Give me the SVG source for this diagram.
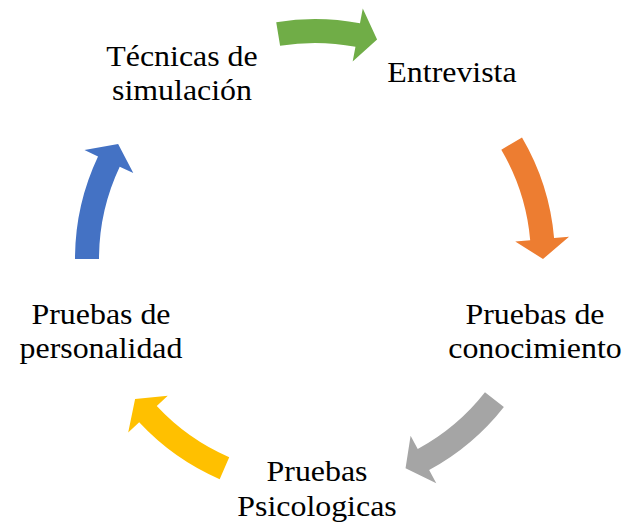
<svg xmlns="http://www.w3.org/2000/svg" width="624" height="524" viewBox="0 0 624 524">
  <style>
    .label { font-family: "Liberation Serif", "Times New Roman", serif; font-size: 29px; fill: #000000; text-anchor: middle; }
    .arrow { stroke: none; }
  </style>
  <rect width="624" height="524" fill="#ffffff"/>

  <!-- circular block arrows, centre (315,259), mid radius 228 -->
  <g id="connectors">
    <path class="arrow" fill="#70AD47" d="M276.22,22.14 A240,240 0 0 1 359.97,23.25 L362.78,8.52 L377.08,39.61 L352.66,61.56 L355.47,46.83 A216,216 0 0 0 280.09,45.83 Z"/>
    <path class="arrow" fill="#ED7D31" d="M522.00,137.55 A240,240 0 0 1 554.09,238.08 L569.03,236.77 L543,259 L515.23,241.48 L530.18,240.17 A216,216 0 0 0 501.30,149.70 Z"/>
    <path class="arrow" fill="#A5A5A5" d="M503.87,407.09 A240,240 0 0 1 429.15,470.12 L436.28,483.31 L405.55,468.25 L410.60,435.81 L417.73,449.00 A216,216 0 0 0 484.98,392.28 Z"/>
    <path class="arrow" fill="#FFC000" d="M219.68,479.26 A240,240 0 0 1 139.19,422.37 L128.20,432.58 L135.09,399.06 L167.76,395.82 L156.77,406.04 A216,216 0 0 0 229.22,457.23 Z"/>
    <path class="arrow" fill="#4472C4" d="M75,259 A240,240 0 0 1 98.02,156.43 L84.46,150.02 L118.14,143.97 L133.28,173.10 L119.72,166.69 A216,216 0 0 0 99,259 Z"/>
  </g>

  <!-- labels are set slightly wide (x 1.1) -->
  <g id="node-entrevista">
    <text class="label" transform="translate(452,82) scale(1.1,1)">Entrevista</text>
  </g>
  <g id="node-conocimiento">
    <text class="label" transform="translate(535,324) scale(1.1,1)">Pruebas de</text>
    <text class="label" transform="translate(535,358) scale(1.1,1)">conocimiento</text>
  </g>
  <g id="node-psicologicas">
    <text class="label" transform="translate(317,481) scale(1.1,1)">Pruebas</text>
    <text class="label" transform="translate(317,516) scale(1.1,1)">Psicologicas</text>
  </g>
  <g id="node-personalidad">
    <text class="label" transform="translate(101,324) scale(1.1,1)">Pruebas de</text>
    <text class="label" transform="translate(101,358) scale(1.1,1)">personalidad</text>
  </g>
  <g id="node-tecnicas">
    <text class="label" transform="translate(182,66) scale(1.1,1)">Técnicas de</text>
    <text class="label" transform="translate(182,100) scale(1.1,1)">simulación</text>
  </g>
</svg>
